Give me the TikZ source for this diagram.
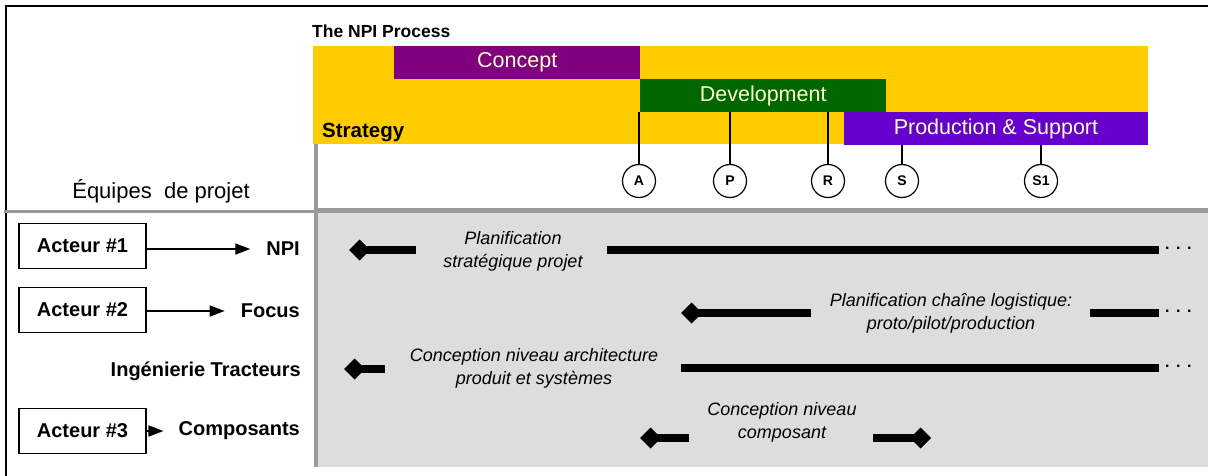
\documentclass[tikz,border=0pt]{standalone}
\usepackage{fontspec}
\setmainfont{Liberation Sans}
\usetikzlibrary{arrows.meta}
\definecolor{npiyellow}{HTML}{FFCC00}
\definecolor{conceptc}{HTML}{800080}
\definecolor{devc}{HTML}{006600}
\definecolor{prodc}{HTML}{6600CC}
\definecolor{barcream}{HTML}{FFFFCC}
\definecolor{panelgray}{HTML}{DDDDDD}
\definecolor{rulegray}{HTML}{999999}
\begin{document}
\begin{tikzpicture}[x=1pt,y=-1pt,
  phase/.style={minimum height=33pt, inner sep=0, anchor=north west, text=barcream, font=\fontsize{21.5}{24}\selectfont},
  milestone/.style={circle, draw, line width=1.2pt, minimum size=33pt, inner sep=0, fill=white, font=\fontsize{14}{14}\selectfont\bfseries},
  actor/.style={draw, line width=1.2pt, minimum width=127pt, minimum height=45pt, inner sep=0, font=\fontsize{20}{24}\selectfont\bfseries},
  team/.style={font=\fontsize{20}{24}\selectfont\bfseries, inner sep=0, anchor=east},
  task/.style={font=\fontsize{18}{23}\selectfont\itshape, align=center, inner sep=0},
  thinarrow/.style={line width=1.7pt, -{Triangle[length=15pt,width=11pt]}},
  barline/.style={line width=8pt},
  diamondarrow/.style={line width=8pt, -{Diamond[length=21pt,width=21pt]}},
  dotstext/.style={font=\fontsize{16}{16}\selectfont\bfseries, inner sep=0, anchor=base west},
  tick/.style={line width=1.2pt}
]
\path[use as bounding box] (0,0) rectangle (1208,476);

% frame
\draw[line width=1.5pt] (6,476) -- (6,6) -- (1208,6);

% grey panel
\fill[panelgray] (318,213) rectangle (1208,467);
\draw[line width=3pt, rulegray] (4,211) -- (316,211);
\draw[line width=5pt, rulegray] (316,210.5) -- (1208,210.5);
\draw[line width=3.5pt, rulegray] (316,143) -- (316,467);

% process header
\node[anchor=base west, inner sep=0, font=\fontsize{17.5}{20}\selectfont\bfseries] (title) at (312,37.3) {The NPI Process};
\node[minimum width=835pt, minimum height=98pt, inner sep=0, anchor=north west, fill=npiyellow] (strategy) at (313,46) {};
\node[phase, fill=conceptc, minimum width=246pt] (concept) at (394,46) {Concept};
\node[phase, fill=devc, minimum width=246pt] (dev) at (640,79) {Development};
\node[phase, fill=prodc, minimum width=304.5pt] (prod) at (843.5,112) {Production \& Support};
\node[anchor=base west, inner sep=0, font=\fontsize{20.5}{24}\selectfont\bfseries] (stratlabel) at (322,138) {Strategy};

% milestones
\node[milestone] (A) at (639,181) {A};
\node[milestone] (P) at (730,181) {P};
\node[milestone] (R) at (828,181) {R};
\node[milestone] (S) at (902,181) {S};
\node[milestone] (S1) at (1041,181) {S1};
\draw[tick] (A.north) -- (A.north |- dev.south);
\draw[tick] (P.north) -- (P.north |- dev.south);
\draw[tick] (R.north) -- (R.north |- dev.south);
\draw[tick] (S.north) -- (S.north |- prod.south);
\draw[tick] (S1.north) -- (S1.north |- prod.south);

% left column
\node[anchor=base, inner sep=0, font=\fontsize{22}{26}\selectfont] (teams) at (161,199) {Équipes~ de projet};

\node[actor] (a1) at (82.5,246) {Acteur \#1};
\node[actor] (a2) at (82.5,310) {Acteur \#2};
\node[actor] (a3) at (82.5,431) {Acteur \#3};
\node[team] (npi) at (300,249) {NPI};
\node[team] (focus) at (300,311) {Focus};
\node[team] (ing) at (301,371) {Ingénierie Tracteurs};
\node[team] (comp) at (300,431) {Composants};
\draw[thinarrow] (a1.east |- 0,249) -- ([xshift=-16pt]npi.west);
\draw[thinarrow] (a2.east |- 0,311) -- ([xshift=-16pt]focus.west);
\draw[thinarrow] (a3.east) -- ([xshift=-15pt]comp.west);

% row 1
\coordinate (r1tip) at (349,250);
\coordinate (r1a) at (416,250);
\coordinate (r1b) at (607,250);
\coordinate (r1c) at (1159,250);
\draw[diamondarrow] (r1a) -- (r1tip);
\draw[barline] (r1b) -- (r1c);
\node[task] (t1) at (513,251.5) {Planification\\stratégique projet};
\node[dotstext] (d1) at (1165,249.5) {.\hspace{6.5pt}.\hspace{6.5pt}.};

% row 2
\coordinate (r2tip) at (681,313);
\coordinate (r2a) at (811,313);
\coordinate (r2b) at (1090,313);
\coordinate (r2c) at (1159,313);
\draw[diamondarrow] (r2a) -- (r2tip);
\draw[barline] (r2b) -- (r2c);
\node[task] (t2) at (951,313) {Planification chaîne logistique:\\proto/pilot/production};
\node[dotstext] (d2) at (1165,312.5) {.\hspace{6.5pt}.\hspace{6.5pt}.};

% row 3
\coordinate (r3tip) at (344,369);
\coordinate (r3a) at (385,369);
\coordinate (r3b) at (681,368);
\coordinate (r3c) at (1159,368);
\draw[diamondarrow] (r3a) -- (r3tip);
\draw[barline] (r3b) -- (r3c);
\node[task] (t3) at (534,368.5) {Conception niveau architecture\\produit et systèmes};
\node[dotstext] (d3) at (1165,367.5) {.\hspace{6.5pt}.\hspace{6.5pt}.};

% row 4
\coordinate (r4tip) at (640,438);
\coordinate (r4a) at (689,438);
\coordinate (r4b) at (873,438);
\coordinate (r4tipb) at (931,438);
\draw[diamondarrow] (r4a) -- (r4tip);
\draw[diamondarrow] (r4b) -- (r4tipb);
\node[task] (t4) at (782,422.5) {Conception niveau\\composant};
\end{tikzpicture}
\end{document}
